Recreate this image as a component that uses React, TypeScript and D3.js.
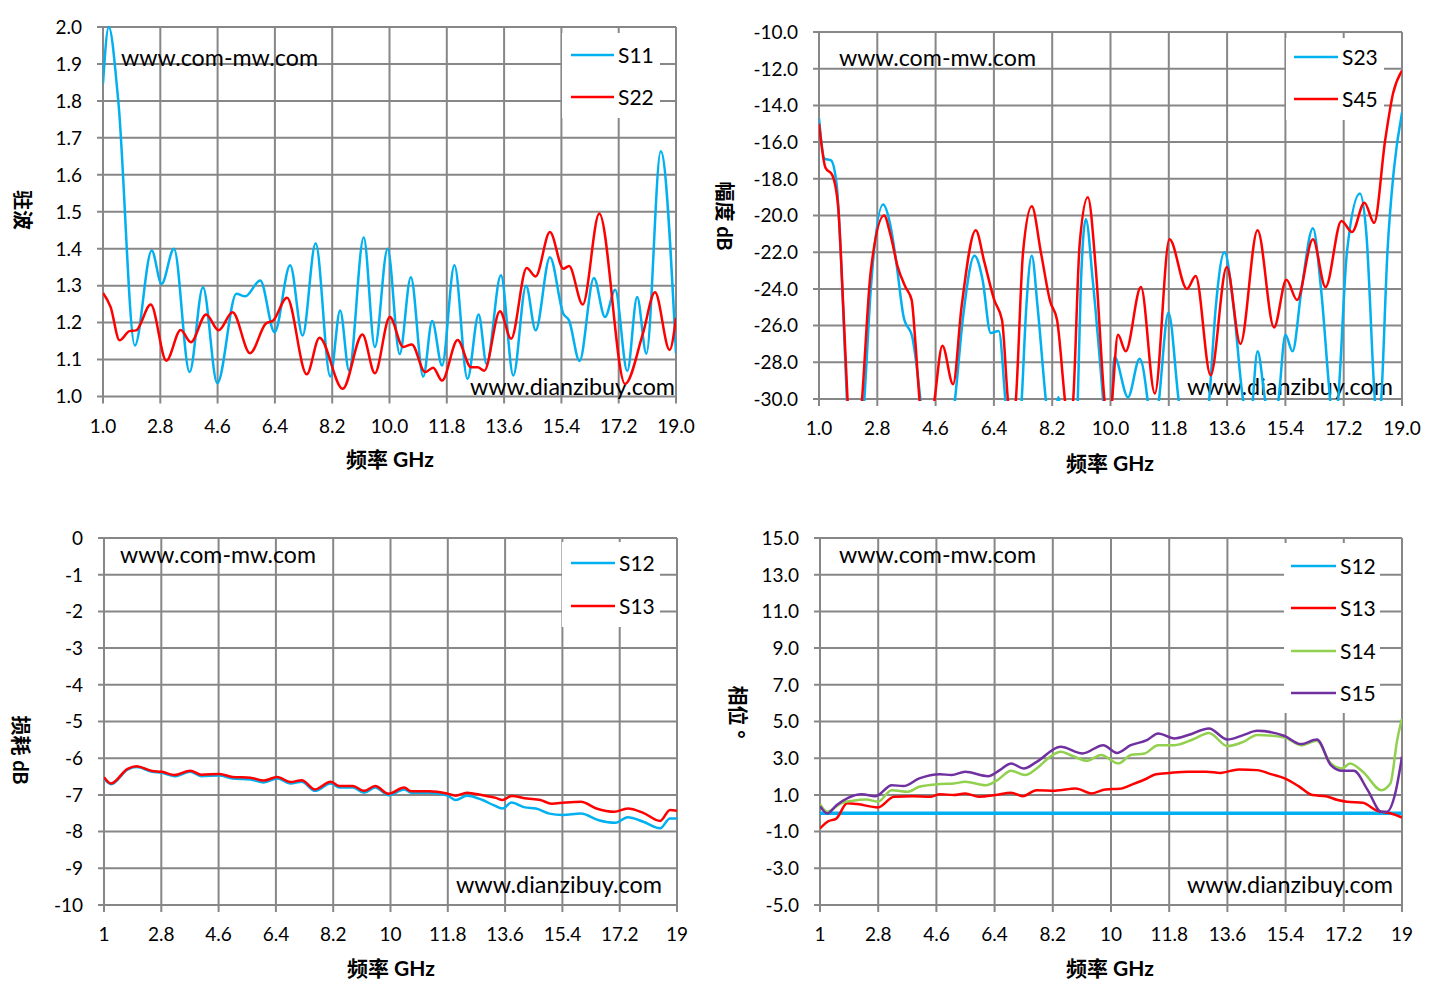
import React, { useEffect } from "react";
import * as d3 from "d3";

type Pt = [number, number];

// frequency axis shared by all four charts (GHz)
const FREQ_TICKS = [1, 2.8, 4.6, 6.4, 8.2, 10, 11.8, 13.6, 15.4, 17.2, 19];
const FREQ_LABELS_TOP = ["1.0", "2.8", "4.6", "6.4", "8.2", "10.0", "11.8", "13.6", "15.4", "17.2", "19.0"];
const FREQ_LABELS_BOTTOM = ["1", "2.8", "4.6", "6.4", "8.2", "10", "11.8", "13.6", "15.4", "17.2", "19"];

// y ticks
const VSWR_TICKS = [1.0, 1.1, 1.2, 1.3, 1.4, 1.5, 1.6, 1.7, 1.8, 1.9, 2.0];
const VSWR_LABELS = ["1.0", "1.1", "1.2", "1.3", "1.4", "1.5", "1.6", "1.7", "1.8", "1.9", "2.0"];
const ISO_TICKS = [-30, -28, -26, -24, -22, -20, -18, -16, -14, -12, -10];
const ISO_LABELS = ["-30.0", "-28.0", "-26.0", "-24.0", "-22.0", "-20.0", "-18.0", "-16.0", "-14.0", "-12.0", "-10.0"];
const LOSS_TICKS = [-10, -9, -8, -7, -6, -5, -4, -3, -2, -1, 0];
const LOSS_LABELS = ["-10", "-9", "-8", "-7", "-6", "-5", "-4", "-3", "-2", "-1", "0"];
const PHASE_TICKS = [-5, -3, -1, 1, 3, 5, 7, 9, 11, 13, 15];
const PHASE_LABELS = ["-5.0", "-3.0", "-1.0", "1.0", "3.0", "5.0", "7.0", "9.0", "11.0", "13.0", "15.0"];

// VSWR
const s11Vswr: Pt[] = [
  [1.0, 1.847], [1.18, 2.0], [1.48, 1.8], [2.0, 1.138], [2.53, 1.395], [2.84, 1.305],
  [3.23, 1.4], [3.72, 1.066], [4.14, 1.296], [4.59, 1.036], [5.19, 1.278], [5.47, 1.271],
  [5.94, 1.314], [6.39, 1.174], [6.88, 1.355], [7.27, 1.165], [7.68, 1.415], [8.14, 1.054],
  [8.45, 1.233], [8.73, 1.07], [9.19, 1.43], [9.54, 1.134], [9.94, 1.4], [10.32, 1.115],
  [10.67, 1.323], [11.06, 1.054], [11.34, 1.204], [11.65, 1.084], [12.04, 1.355], [12.45, 1.048],
  [12.8, 1.222], [13.05, 1.088], [13.5, 1.328], [13.89, 1.057], [14.29, 1.3], [14.59, 1.179],
  [15.04, 1.377], [15.46, 1.224], [15.64, 1.206], [15.97, 1.096], [16.42, 1.321], [16.77, 1.215],
  [17.09, 1.289], [17.47, 1.069], [17.78, 1.269], [18.07, 1.116], [18.52, 1.664], [19.0, 1.117],
];
const s22Vswr: Pt[] = [
  [1.0, 1.28], [1.24, 1.242], [1.52, 1.152], [1.83, 1.177], [2.04, 1.179], [2.5, 1.249],
  [2.99, 1.097], [3.44, 1.18], [3.76, 1.147], [4.24, 1.222], [4.63, 1.179], [5.07, 1.228],
  [5.62, 1.117], [6.11, 1.197], [6.35, 1.206], [6.78, 1.267], [7.4, 1.06], [7.8, 1.159],
  [8.53, 1.021], [9.15, 1.168], [9.54, 1.063], [10.01, 1.215], [10.43, 1.134], [10.7, 1.141],
  [11.12, 1.066], [11.37, 1.078], [11.65, 1.043], [12.14, 1.153], [12.56, 1.079], [12.77, 1.079],
  [12.98, 1.07], [13.47, 1.231], [13.82, 1.156], [14.31, 1.348], [14.59, 1.325], [15.04, 1.445],
  [15.46, 1.346], [15.64, 1.353], [16.07, 1.249], [16.59, 1.495], [17.4, 1.034], [17.96, 1.17],
  [18.34, 1.282], [18.8, 1.126], [19.0, 1.213],
];

// isolation, dB (dips go below the -30 floor and are clipped)
const s23Iso: Pt[] = [
  [1.0, -14.7], [1.17, -16.9], [1.37, -17.0], [1.55, -18.4], [1.72, -24], [1.86, -30], [2.1, -36],
  [2.4, -30], [2.6, -24], [2.98, -19.4], [3.2, -20.5], [3.39, -22.6], [3.61, -25.5], [3.89, -26.7],
  [4.0, -28], [4.13, -30], [4.6, -36], [5.2, -30], [5.45, -25.5], [5.8, -22.2], [6.05, -23.5],
  [6.3, -26.4], [6.55, -26.3], [6.75, -30], [7.0, -36], [7.26, -30], [7.4, -25], [7.57, -22.2],
  [7.75, -25], [8.0, -30], [8.2, -33], [8.39, -29.9], [8.55, -33], [8.75, -36], [8.99, -30],
  [9.08, -24], [9.24, -20.2], [9.45, -23.5], [9.77, -30], [9.95, -34], [10.12, -27.7], [10.54, -29.9],
  [10.9, -27.8], [11.14, -30], [11.3, -33], [11.5, -30], [11.79, -25.3], [12.1, -30], [12.6, -36],
  [13.05, -30], [13.25, -25], [13.52, -22.0], [13.8, -25], [14.09, -30], [14.3, -31.5], [14.54, -27.4],
  [14.77, -30], [15.0, -32], [15.19, -30], [15.4, -26.5], [15.62, -27.4], [15.9, -24], [16.25, -20.7],
  [16.5, -24], [16.78, -30], [16.9, -32], [17.03, -30], [17.3, -22], [17.7, -18.8], [17.9, -21],
  [18.16, -30], [18.26, -32], [18.36, -30], [18.55, -22], [18.75, -17.5], [19.0, -14.4],
];
const s45Iso: Pt[] = [
  [1.0, -15.0], [1.2, -17.4], [1.41, -17.8], [1.59, -19.5], [1.75, -25], [1.88, -30], [2.1, -35],
  [2.33, -30], [2.6, -23], [3.01, -20.0], [3.2, -21], [3.43, -22.8], [3.67, -23.9], [3.86, -24.6],
  [3.98, -27], [4.1, -30], [4.35, -33], [4.57, -30], [4.81, -27.1], [5.14, -29.2], [5.4, -25],
  [5.84, -20.8], [6.1, -22.5], [6.41, -24.6], [6.65, -25.7], [6.83, -30], [6.95, -32], [7.08, -30],
  [7.3, -22], [7.57, -19.5], [7.85, -22], [8.14, -24.7], [8.35, -25.7], [8.59, -30], [8.72, -32],
  [8.85, -30], [9.05, -21.5], [9.3, -19.0], [9.55, -23], [9.81, -30], [9.93, -32], [10.05, -30],
  [10.23, -26.5], [10.47, -27.4], [10.94, -23.9], [11.37, -29.7], [11.82, -21.3], [12.36, -24.0],
  [12.63, -23.3], [13.09, -28.7], [13.59, -22.8], [14.01, -27.0], [14.54, -20.8], [15.05, -26.1],
  [15.43, -23.5], [15.76, -24.6], [16.25, -21.3], [16.64, -23.9], [17.13, -20.3], [17.46, -20.9],
  [17.84, -19.3], [18.14, -20.4], [18.48, -15.9], [18.73, -13.3], [19.0, -12.1],
];

// insertion loss, dB
const s12Loss: Pt[] = [
  [1.0, -6.55], [1.22, -6.71], [1.74, -6.31], [2.02, -6.24], [2.51, -6.37], [2.82, -6.4],
  [3.21, -6.49], [3.71, -6.37], [4.06, -6.49], [4.62, -6.47], [5.04, -6.55], [5.6, -6.58],
  [6.02, -6.66], [6.44, -6.55], [6.86, -6.69], [7.21, -6.64], [7.63, -6.89], [8.12, -6.69],
  [8.4, -6.8], [8.82, -6.8], [9.17, -6.94], [9.52, -6.8], [9.94, -7.01], [10.43, -6.85],
  [10.65, -6.94], [11.21, -6.94], [11.77, -7.01], [12.05, -7.14], [12.4, -7.02], [12.89, -7.14],
  [13.24, -7.28], [13.52, -7.37], [13.8, -7.21], [14.22, -7.34], [14.57, -7.37], [14.99, -7.51],
  [15.41, -7.55], [15.98, -7.51], [16.54, -7.69], [17.07, -7.76], [17.45, -7.61], [17.94, -7.73],
  [18.47, -7.91], [18.78, -7.64], [19.0, -7.64],
];
const s13Loss: Pt[] = [
  [1.0, -6.52], [1.22, -6.69], [1.74, -6.29], [2.02, -6.22], [2.51, -6.35], [2.82, -6.37],
  [3.21, -6.46], [3.71, -6.34], [4.06, -6.45], [4.62, -6.43], [5.04, -6.51], [5.6, -6.53],
  [6.02, -6.61], [6.44, -6.51], [6.86, -6.65], [7.21, -6.6], [7.63, -6.85], [8.12, -6.64],
  [8.4, -6.76], [8.82, -6.76], [9.17, -6.89], [9.52, -6.76], [9.94, -6.97], [10.43, -6.8],
  [10.65, -6.9], [11.21, -6.9], [11.77, -6.96], [12.05, -7.02], [12.4, -6.94], [12.89, -7.01],
  [13.31, -7.08], [13.52, -7.14], [13.8, -7.03], [14.29, -7.1], [14.71, -7.14], [15.06, -7.24],
  [15.48, -7.21], [15.98, -7.19], [16.47, -7.37], [17.03, -7.46], [17.45, -7.37], [17.94, -7.49],
  [18.47, -7.71], [18.78, -7.41], [19.0, -7.43],
];

// phase, degrees
const s12Phase: Pt[] = [[1.0, 0.0], [10.0, 0.0], [19.0, 0.0]];
const s13Phase: Pt[] = [
  [1.0, -0.83], [1.23, -0.46], [1.51, -0.28], [1.84, 0.54], [2.15, 0.5], [2.79, 0.32], [3.29, 0.9],
  [3.86, 0.93], [4.43, 0.9], [4.71, 1.04], [5.14, 0.99], [5.49, 1.08], [5.92, 0.9], [6.42, 0.99],
  [6.91, 1.12], [7.27, 0.93], [7.7, 1.26], [8.27, 1.23], [8.91, 1.35], [9.4, 1.08], [9.83, 1.3],
  [10.26, 1.33], [10.68, 1.59], [11.04, 1.84], [11.39, 2.13], [11.82, 2.2], [12.39, 2.26],
  [12.96, 2.26], [13.38, 2.2], [13.95, 2.39], [14.52, 2.35], [14.95, 2.13], [15.37, 1.9],
  [15.8, 1.48], [16.23, 0.99], [16.65, 0.93], [17.01, 0.72], [17.29, 0.63], [17.79, 0.57],
  [18.22, 0.14], [18.64, 0.0], [19.0, -0.23],
];
const s14Phase: Pt[] = [
  [1.0, 0.5], [1.23, 0.08], [1.65, 0.54], [2.01, 0.68], [2.44, 0.75], [2.79, 0.63], [3.22, 1.26],
  [3.72, 1.17], [4.07, 1.44], [4.71, 1.59], [5.14, 1.62], [5.49, 1.72], [6.13, 1.53], [6.49, 1.81],
  [6.91, 2.31], [7.34, 2.08], [7.7, 2.44], [8.12, 3.08], [8.44, 3.35], [8.83, 3.11], [9.26, 2.86],
  [9.69, 3.17], [10.23, 2.71], [10.61, 3.17], [11.04, 3.26], [11.46, 3.71], [11.96, 3.71],
  [12.53, 4.02], [13.03, 4.38], [13.6, 3.66], [14.09, 3.89], [14.52, 4.26], [15.37, 4.13],
  [15.87, 3.71], [16.37, 3.95], [16.8, 2.71], [17.15, 2.44], [17.39, 2.71], [17.79, 2.26],
  [18.36, 1.26], [18.64, 1.62], [18.85, 3.98], [19.0, 5.16],
];
const s15Phase: Pt[] = [
  [1.0, 0.39], [1.23, -0.01], [1.51, 0.44], [1.87, 0.84], [2.29, 1.03], [2.72, 0.93], [3.22, 1.53],
  [3.58, 1.48], [4.07, 1.9], [4.71, 2.13], [5.07, 2.08], [5.49, 2.26], [6.2, 2.02], [6.56, 2.35],
  [6.91, 2.71], [7.3, 2.44], [7.7, 2.8], [8.44, 3.62], [9.12, 3.26], [9.76, 3.71], [10.18, 3.29],
  [10.61, 3.71], [11.11, 3.98], [11.46, 4.35], [11.96, 4.08], [12.39, 4.26], [13.03, 4.62],
  [13.6, 4.02], [14.09, 4.26], [14.52, 4.49], [15.37, 4.21], [15.87, 3.77], [16.37, 4.02],
  [16.8, 2.62], [17.15, 2.31], [17.51, 2.31], [17.94, 1.26], [18.36, 0.08], [18.53, 0.08],
  [18.79, 1.08], [19.0, 3.08],
];

const CYAN = "#00b0f0";
const RED = "#ff0000";
const GREEN = "#92d050";
const PURPLE = "#7030a0";
const GRID = "#878787";
const FONT = "Lato, 'Liberation Sans', sans-serif";
const CJK = "'Noto Sans CJK SC', sans-serif";

interface Series { name: string; color: string; data: Pt[]; width?: number }
interface PanelCfg {
  id: string;
  left: number; right: number; top: number; bottom: number;
  yDomain: [number, number];
  yTicks: number[]; yLabels: string[];
  xLabels: string[];
  series: Series[];
  legend: { x0: number; x1: number; y0: number; y1: number; lineX0: number; lineX1: number; textX: number; ys: number[] };
  yTitle: { x: number; y: number; zh: string; unit: string };
  xTitle: { x: number; y: number };
  marks: { top: [number, number, number]; bottom: [number, number, number] };
}

const panels: PanelCfg[] = [
  {
    id: "p1", left: 103, right: 676, top: 27, bottom: 396.5,
    yDomain: [1.0, 2.0], yTicks: VSWR_TICKS, yLabels: VSWR_LABELS, xLabels: FREQ_LABELS_TOP,
    series: [
      { name: "S11", color: CYAN, data: s11Vswr },
      { name: "S22", color: RED, data: s22Vswr },
    ],
    legend: { x0: 562, x1: 660, y0: 33, y1: 118, lineX0: 571, lineX1: 614, textX: 618, ys: [55, 97] },
    yTitle: { x: 22, y: 210, zh: "驻波", unit: "" },
    xTitle: { x: 390, y: 467 },
    marks: { top: [121, 318, 66], bottom: [470, 675, 395] },
  },
  {
    id: "p2", left: 819, right: 1402, top: 32, bottom: 399,
    yDomain: [-30, -10], yTicks: ISO_TICKS, yLabels: ISO_LABELS, xLabels: FREQ_LABELS_TOP,
    series: [
      { name: "S23", color: CYAN, data: s23Iso },
      { name: "S45", color: RED, data: s45Iso },
    ],
    legend: { x0: 1286, x1: 1384, y0: 38, y1: 120, lineX0: 1294, lineX1: 1338, textX: 1342, ys: [57, 99] },
    yTitle: { x: 724, y: 216, zh: "幅度", unit: "dB" },
    xTitle: { x: 1110, y: 471 },
    marks: { top: [839, 1036, 66], bottom: [1187, 1393, 395] },
  },
  {
    id: "p3", left: 104, right: 677, top: 538, bottom: 905,
    yDomain: [-10, 0], yTicks: LOSS_TICKS, yLabels: LOSS_LABELS, xLabels: FREQ_LABELS_BOTTOM,
    series: [
      { name: "S12", color: CYAN, data: s12Loss },
      { name: "S13", color: RED, data: s13Loss },
    ],
    legend: { x0: 562, x1: 660, y0: 542, y1: 627, lineX0: 571, lineX1: 615, textX: 619, ys: [563, 606] },
    yTitle: { x: 20, y: 750, zh: "损耗", unit: "dB" },
    xTitle: { x: 391, y: 976 },
    marks: { top: [120, 316, 563], bottom: [456, 662, 893] },
  },
  {
    id: "p4", left: 820, right: 1402, top: 538, bottom: 905,
    yDomain: [-5, 15], yTicks: PHASE_TICKS, yLabels: PHASE_LABELS, xLabels: FREQ_LABELS_BOTTOM,
    series: [
      { name: "S12", color: CYAN, data: s12Phase, width: 3.5 },
      { name: "S13", color: RED, data: s13Phase },
      { name: "S14", color: GREEN, data: s14Phase },
      { name: "S15", color: PURPLE, data: s15Phase },
    ],
    legend: { x0: 1284, x1: 1380, y0: 543, y1: 713, lineX0: 1291, lineX1: 1336, textX: 1340, ys: [566, 608, 651, 693] },
    yTitle: { x: 737, y: 712, zh: "相位", unit: "°" },
    xTitle: { x: 1110, y: 976 },
    marks: { top: [839, 1036, 563], bottom: [1187, 1393, 893] },
  },
];

function Panel({ cfg }: { cfg: PanelCfg }) {
  const x = d3.scaleLinear().domain([1, 19]).range([cfg.left, cfg.right]);
  const y = d3.scaleLinear().domain(cfg.yDomain).range([cfg.bottom, cfg.top]);
  const line = d3
    .line<Pt>()
    .x((d) => x(d[0]))
    .y((d) => y(d[1]))
    .curve(d3.curveMonotoneX);
  const lg = cfg.legend;

  return (
    <g>
      <defs>
        <clipPath id={`clip-${cfg.id}`}>
          <rect x={cfg.left} y={cfg.top - 2} width={cfg.right - cfg.left} height={cfg.bottom - cfg.top + 4} />
        </clipPath>
      </defs>

      {/* grid */}
      {cfg.yTicks.map((t) => (
        <line key={`h${t}`} x1={cfg.left - 6} x2={cfg.right} y1={y(t)} y2={y(t)} stroke={GRID} strokeWidth={2} />
      ))}
      {FREQ_TICKS.map((t) => (
        <line key={`v${t}`} x1={x(t)} x2={x(t)} y1={cfg.top} y2={cfg.bottom + 7} stroke={GRID} strokeWidth={2} />
      ))}

      {/* tick labels */}
      {cfg.yTicks.map((t, i) => (
        <text key={`yl${t}`} x={cfg.left - 21} y={y(t)} dy="0.36em" textAnchor="end" fontSize={19} fontFamily={FONT} fill="#000">
          {cfg.yLabels[i]}
        </text>
      ))}
      {FREQ_TICKS.map((t, i) => (
        <text key={`xl${t}`} x={x(t)} y={cfg.bottom + 36} textAnchor="middle" fontSize={19} fontFamily={FONT} fill="#000">
          {cfg.xLabels[i]}
        </text>
      ))}

      {/* watermarks */}
      <text x={cfg.marks.top[0]} y={cfg.marks.top[2]} fontSize={23} fontFamily={FONT} textLength={cfg.marks.top[1] - cfg.marks.top[0]} lengthAdjust="spacingAndGlyphs">
        www.com-mw.com
      </text>
      <text x={cfg.marks.bottom[0]} y={cfg.marks.bottom[2]} fontSize={23} fontFamily={FONT} textLength={cfg.marks.bottom[1] - cfg.marks.bottom[0]} lengthAdjust="spacingAndGlyphs">
        www.dianzibuy.com
      </text>

      {/* series */}
      <g clipPath={`url(#clip-${cfg.id})`}>
        {cfg.series.map((s) => (
          <path key={s.name} d={line(s.data) || ""} fill="none" stroke={s.color} strokeWidth={s.width ?? 2.5} strokeLinejoin="round" />
        ))}
      </g>

      {/* legend */}
      <rect x={lg.x0} y={lg.y0} width={lg.x1 - lg.x0} height={lg.y1 - lg.y0} fill="#fff" />
      {cfg.series.map((s, i) => (
        <g key={`lg${s.name}`}>
          <line x1={lg.lineX0} x2={lg.lineX1} y1={lg.ys[i]} y2={lg.ys[i]} stroke={s.color} strokeWidth={2.5} />
          <text x={lg.textX} y={lg.ys[i]} dy="0.36em" fontSize={21} fontFamily={FONT}>
            {s.name}
          </text>
        </g>
      ))}

      {/* axis titles */}
      <text x={cfg.xTitle.x} y={cfg.xTitle.y} textAnchor="middle" fontSize={21} fontWeight="bold">
        <tspan fontFamily={CJK}>频率</tspan>
        <tspan fontFamily={FONT}> GHz</tspan>
      </text>
      <text
        transform={`translate(${cfg.yTitle.x},${cfg.yTitle.y}) rotate(90)`}
        textAnchor="middle"
        dy="0.36em"
        fontSize={20}
        fontWeight="bold"
      >
        <tspan fontFamily={CJK}>{cfg.yTitle.zh}</tspan>
        {cfg.yTitle.unit && <tspan fontFamily={FONT}>{" " + cfg.yTitle.unit}</tspan>}
      </text>
    </g>
  );
}

export default function App() {
  useEffect(() => {
    document.body.style.margin = "0";
  }, []);

  return (
    <div style={{ position: "absolute", left: 0, top: 0 }}>
      <svg width={1435} height={997} style={{ display: "block", background: "#fff" }}>
        {panels.map((p) => (
          <Panel key={p.id} cfg={p} />
        ))}
      </svg>
    </div>
  );
}
